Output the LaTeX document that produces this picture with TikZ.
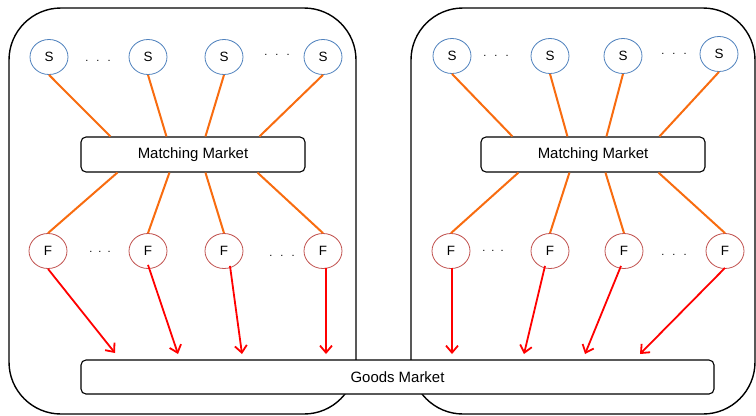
\documentclass[tikz,border=0pt]{standalone}
\usepackage{fontspec}
\setmainfont{Liberation Sans}
\usetikzlibrary{shapes.geometric,arrows.meta}
\definecolor{sellerline}{RGB}{79,129,189}
\definecolor{firmline}{RGB}{192,80,77}
\definecolor{tieline}{RGB}{248,108,16}
\definecolor{flowline}{RGB}{255,0,0}
\begin{document}
\begin{tikzpicture}[x=1bp,y=-1bp,
  region/.style={draw=black,line width=1.4bp,rounded corners=52bp},
  market/.style={draw=black,fill=white,line width=1.1bp,rounded corners=5bp,
    minimum height=35bp,inner sep=0pt,font=\fontsize{15}{17}\selectfont},
  agent/.style={ellipse,line width=0.8bp,minimum width=38bp,minimum height=35bp,
    inner sep=0pt,font=\fontsize{13.5}{15}\selectfont},
  seller/.style={agent,draw=sellerline},
  firm/.style={agent,draw=firmline},
  dots/.style={anchor=base,inner sep=0pt,font=\fontsize{11}{12}\selectfont},
  tie/.style={draw=tieline,line width=2bp},
  supply/.style={draw=flowline,line width=1.8bp,
    -{Straight Barb[length=7bp,width=12bp]}}]
\useasboundingbox (0,0) rectangle (756,415);

% the two economies
\draw[region] (9,8) rectangle (356,414);
\draw[region] (411,8) rectangle (755,414);

% matching markets
\node[market,minimum width=224bp] (mmL) at (193,154.5) {Matching Market};
\node[market,minimum width=224bp] (mmR) at (593,154.5) {Matching Market};

% sellers, left economy
\node[seller] (sL1) at (49,57) {S};
\node[seller] (sL2) at (148,57) {S};
\node[seller] (sL3) at (224,57) {S};
\node[seller] (sL4) at (323,57) {S};
\node[dots] (dsL1) at (98,61) {.\hspace{8bp}.\hspace{8bp}.};
\node[dots] (dsL2) at (277,55) {.\hspace{8bp}.\hspace{8bp}.};
% sellers, right economy
\node[seller] (sR1) at (452,56) {S};
\node[seller] (sR2) at (550,56) {S};
\node[seller] (sR3) at (623,56) {S};
\node[seller] (sR4) at (719,54) {S};
\node[dots] (dsR1) at (496,56) {.\hspace{8bp}.\hspace{8bp}.};
\node[dots] (dsR2) at (674,54) {.\hspace{8bp}.\hspace{8bp}.};

% firms, left economy
\node[firm] (fL1) at (48,251) {F};
\node[firm] (fL2) at (148,251) {F};
\node[firm] (fL3) at (224,251) {F};
\node[firm] (fL4) at (323,251) {F};
\node[dots] (dfL1) at (100,252) {.\hspace{6bp}.\hspace{6bp}.};
\node[dots] (dfL2) at (282,256) {.\hspace{8bp}.\hspace{8bp}.};
% firms, right economy
\node[firm] (fR1) at (451,251) {F};
\node[firm] (fR2) at (550,251) {F};
\node[firm] (fR3) at (624,251) {F};
\node[firm] (fR4) at (725,251) {F};
\node[dots] (dfR1) at (493,251) {.\hspace{6bp}.\hspace{6bp}.};
\node[dots] (dfR2) at (674,255) {.\hspace{8bp}.\hspace{8bp}.};

% sellers -- matching market -- firms
\draw[tie] (sL1.south) -- ([xshift=30bp]mmL.north west);
\draw[tie] (sL2.south) -- ([xshift=86bp]mmL.north west);
\draw[tie] (sL3.south) -- ([xshift=125bp]mmL.north west);
\draw[tie] (sL4.south) -- ([xshift=179bp]mmL.north west);
\draw[tie] ([xshift=37bp]mmL.south west) -- (fL1.north);
\draw[tie] ([xshift=89bp]mmL.south west) -- (fL2.north);
\draw[tie] ([xshift=125bp]mmL.south west) -- (fL3.north);
\draw[tie] ([xshift=177bp]mmL.south west) -- (fL4.north);

\draw[tie] (sR1.south) -- ([xshift=32bp]mmR.north west);
\draw[tie] (sR2.south) -- ([xshift=87bp]mmR.north west);
\draw[tie] (sR3.south) -- ([xshift=126bp]mmR.north west);
\draw[tie] (sR4.south) -- ([xshift=179bp]mmR.north west);
\draw[tie] ([xshift=38bp]mmR.south west) -- (fR1.north);
\draw[tie] ([xshift=89bp]mmR.south west) -- (fR2.north);
\draw[tie] ([xshift=125bp]mmR.south west) -- (fR3.north);
\draw[tie] ([xshift=178bp]mmR.south west) -- (fR4.north);

% goods market over both economies
\node[market,minimum width=633bp,minimum height=34bp] (goods) at (397.5,377) {Goods Market};

% firms supply the goods market
\coordinate (gL1) at (115,353);
\coordinate (gL2) at (178,354);
\coordinate (gL3) at (242,354);
\coordinate (gL4) at (326,354);
\coordinate (gR1) at (452,354);
\coordinate (gR2) at (524,354);
\coordinate (gR3) at (585,354);
\coordinate (gR4) at (640,354);
\draw[supply] (fL1.south) -- (gL1);
\draw[supply] ([yshift=4bp]fL2.south) -- (gL2);
\draw[supply] ([xshift=6bp,yshift=3bp]fL3.south) -- (gL3);
\draw[supply] ([xshift=3bp,yshift=1bp]fL4.south) -- (gL4);
\draw[supply] ([xshift=1bp,yshift=1bp]fR1.south) -- (gR1);
\draw[supply] ([xshift=-5bp,yshift=3bp]fR2.south) -- (gR2);
\draw[supply] ([xshift=-3bp,yshift=3bp]fR3.south) -- (gR3);
\draw[supply] ([yshift=1bp]fR4.south) -- (gR4);
\end{tikzpicture}
\end{document}
